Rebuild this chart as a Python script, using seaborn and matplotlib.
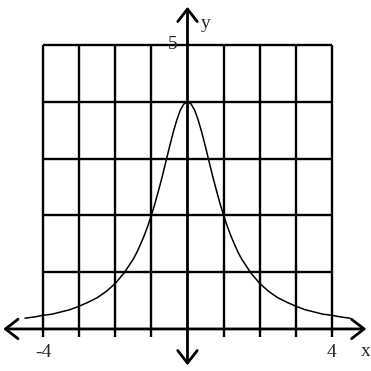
import matplotlib
matplotlib.use("Agg")
import matplotlib.pyplot as plt
import seaborn as sns
import pandas as pd

# curve samples
x_vals = [-4.5, -4.25, -4.0, -3.75, -3.5, -3.25, -3.0, -2.75, -2.5, -2.25, -2.0,
          -1.75, -1.5, -1.4, -1.3, -1.2, -1.1, -1.0, -0.9, -0.8, -0.7, -0.6,
          -0.5, -0.4, -0.3, -0.2, -0.1, 0.0,
          0.1, 0.2, 0.3, 0.4, 0.5, 0.6, 0.7, 0.8, 0.9, 1.0,
          1.1, 1.2, 1.3, 1.4, 1.5, 1.75, 2.0, 2.25, 2.5, 2.75, 3.0,
          3.25, 3.5, 3.75, 4.0, 4.25, 4.5]
y_vals = [0.19, 0.21, 0.24, 0.26, 0.30, 0.34, 0.40, 0.47, 0.55, 0.66, 0.80,
          0.99, 1.23, 1.35, 1.49, 1.64, 1.81, 2.00, 2.21, 2.44, 2.68, 2.94,
          3.20, 3.45, 3.67, 3.85, 3.96, 4.00,
          3.96, 3.85, 3.67, 3.45, 3.20, 2.94, 2.68, 2.44, 2.21, 2.00,
          1.81, 1.64, 1.49, 1.35, 1.23, 0.99, 0.80, 0.66, 0.55, 0.47, 0.40,
          0.34, 0.30, 0.26, 0.24, 0.21, 0.19]
grid_x = [-4, -3, -2, -1, 0, 1, 2, 3, 4]
grid_y = [1, 2, 3, 4, 5]
x_tick_labels = {-4: "-4", 4: "4"}
y_tick_labels = {5: "5"}

sns.set_style("white")
plt.rcParams['font.family'] = ['Liberation Serif', 'DejaVu Serif']

fig = plt.figure(figsize=(3.71, 3.71), dpi=100)
ax = fig.add_axes([0, 0, 1, 1])
ax.set_xlim(-5.19, 5.08)
ax.set_ylim(-0.74, 5.79)
ax.axis('off')

lw = 1.7
# vertical grid lines (extend slightly below the axis as ticks)
for gx in grid_x:
    if gx == 0:
        continue
    ax.plot([gx, gx], [-0.15, 5], color='black', lw=lw, solid_capstyle='butt')
# horizontal grid lines
for gy in grid_y:
    ax.plot([-4, 4], [gy, gy], color='black', lw=lw, solid_capstyle='butt')
# y-axis ticks
for gy in grid_y:
    ax.plot([-0.25, 0.22], [gy, gy], color='black', lw=1.4, solid_capstyle='butt')

# axes with open arrowheads
astyle = '<->, head_length=0.45, head_width=0.35'
ax.annotate('', xy=(4.95, 0), xytext=(-5.1, 0),
            arrowprops=dict(arrowstyle=astyle, lw=2, color='black', mutation_scale=20,
                            shrinkA=0, shrinkB=0))
ax.annotate('', xy=(0, 5.67), xytext=(0, -0.64),
            arrowprops=dict(arrowstyle=astyle, lw=2, color='black', mutation_scale=20,
                            shrinkA=0, shrinkB=0))

df = pd.DataFrame({'x': x_vals, 'y': y_vals})
sns.lineplot(data=df, x='x', y='y', ax=ax, color='black', lw=1.1, sort=False)

for xv, t in x_tick_labels.items():
    ax.text(xv, -0.42, t, ha='center', va='center', fontsize=14)
for yv, t in y_tick_labels.items():
    ax.text(-0.4, yv, t, ha='center', va='center', fontsize=14)
ax.text(4.92, -0.4, 'x', ha='center', va='center', fontsize=14)
ax.text(0.5, 5.38, 'y', ha='center', va='center', fontsize=14)

fig.savefig('out.png', dpi=100)
